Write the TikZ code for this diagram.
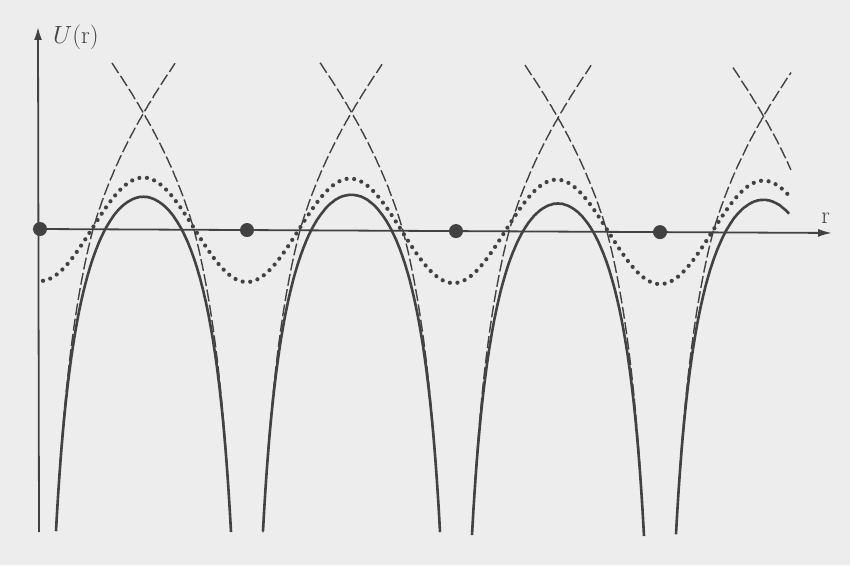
\documentclass[tikz,border=0pt]{standalone}
\usetikzlibrary{arrows.meta}
\definecolor{ink}{RGB}{66,66,66}
\definecolor{paper}{RGB}{237,237,237}
\begin{document}
\begin{tikzpicture}[x=1pt,y=-1pt,
  declare function={hs(\d)=580.1-2328*exp(-0.35*ln(\d));
                    hu(\d)=79-4855*exp(-0.9*ln(\d))+1.079*\d;
                    hd(\d)=(\d<53)*hs(\d)+(\d>=53)*hu(\d);},
  axisline/.style={ink, line width=1.8pt},
  solidc/.style={ink, line width=2.6pt},
  dashc/.style={ink, line width=1.4pt, dash pattern=on 12pt off 3.5pt},
  dotc/.style={ink, line width=4.2pt, line cap=round, dash pattern=on 0pt off 7.6pt},
  ion/.style={circle, fill=ink, inner sep=0pt, minimum size=14pt},
  lab/.style={ink, font=\fontsize{24}{24}\selectfont, inner sep=0pt}]
\fill[paper] (0,0) rectangle (850,565);
\useasboundingbox (0,0) rectangle (850,565);
\begin{scope}[cm={1,-0.005,0,1,(0pt,0.2pt)}]
  % axes
  \coordinate (yb) at (39,532);
  \coordinate (yt) at (38,27);
  \coordinate (xl) at (33,229);
  \coordinate (xr) at (832,229);
  \draw[axisline, -{Latex[length=13pt,width=8pt]}] (yb) -- (yt);
  \draw[axisline, -{Latex[length=14pt,width=8pt]}] (xl) -- (xr);
  % dotted curve
  \draw[dotc] plot[domain=43:790, samples=300, smooth] (\x,{229+52*cos((\x-40)*1.74166)});
  % dashed single-ion curves
  \draw[dashc] plot[domain=56:175, samples=120, smooth] (\x,{229-hd(\x-40)});
  \draw[dashc] plot[domain=112:231, samples=120, smooth] (\x,{229-hd(247-\x)});
  \draw[dashc] plot[domain=263:382, samples=120, smooth] (\x,{229-hd(\x-247)});
  \draw[dashc] plot[domain=320:440, samples=120, smooth] (\x,{229-hd(456-\x)});
  \draw[dashc] plot[domain=472:591, samples=120, smooth] (\x,{229-hd(\x-456)});
  \draw[dashc] plot[domain=525:644, samples=120, smooth] (\x,{229-hd(660-\x)});
  \draw[dashc] plot[domain=676:791, samples=120, smooth] (\x,{229-hd(\x-660)});
  \draw[dashc] plot[domain=733:791, samples=50, smooth] (\x,{229-hd(867-\x)});
  % solid total potential
  \draw[solidc] plot[domain=56:231, samples=140, smooth] (\x,{229-(hs(\x-40)+hs(247-\x)-209.6)});
  \draw[solidc] plot[domain=263:440, samples=140, smooth] (\x,{229-(hs(\x-247)+hs(456-\x)-209.6)});
  \draw[solidc] plot[domain=472:644, samples=140, smooth] (\x,{229-(hs(\x-456)+hs(660-\x)-209.6)});
  \draw[solidc] plot[domain=676:789, samples=120, smooth] (\x,{229-(hs(\x-660)+hs(867-\x)-209.6)});
  % ions
  \node[ion] (ion1) at (40,229) {};
  \node[ion] (ion2) at (247,229) {};
  \node[ion] (ion3) at (456,229) {};
  \node[ion] (ion4) at (660,229) {};
\end{scope}
% labels
\node[lab, anchor=base west] (ulab) at (53,43) {$U(\mathrm{r})$};
\node[lab, anchor=base] (rlab) at (825.5,223) {r};
\end{tikzpicture}
\end{document}
